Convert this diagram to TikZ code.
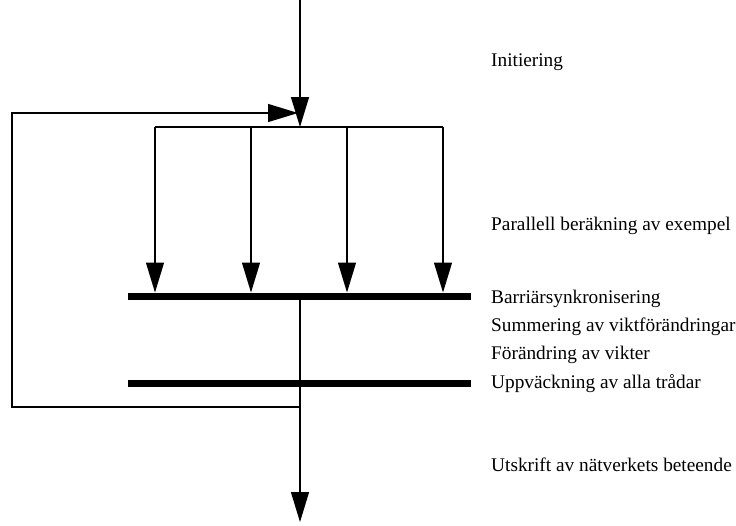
\documentclass[tikz,border=0pt]{standalone}
\usepackage{fontspec}
\setmainfont{Liberation Serif}
\usetikzlibrary{arrows.meta}

\begin{document}
\begin{tikzpicture}[x=1pt, y=-1pt,
	flode/.style={line width=1.3pt, -{Triangle[length=30pt,width=18pt]}}, % pilar
	linje/.style={line width=1.3pt},
	barriar/.style={line width=7pt}, % tjocka streck
	etikett/.style={anchor=base west, inner sep=0pt, font=\fontsize{19.3}{21}\selectfont}]
\useasboundingbox (0,0) rectangle (736,525);
% punkter
\coordinate (start) at (300,0);
\coordinate (fordela) at (300,127);
\coordinate (slut) at (300,522);
\coordinate (tillbaka) at (300,407);
\coordinate (bvanster) at (128,296);
\coordinate (bhoger) at (471,296);
\coordinate (uvanster) at (128,383);
\coordinate (uhoger) at (471,383);
% barriärer
\draw[barriar] (bvanster) -- (bhoger);
\draw[barriar] (uvanster) -- (uhoger);
% initiering
\draw[flode] (start) -- (fordela);
\draw[linje] (155,127) -- (443,127);
\foreach \x in {155,251,347,443}
	\draw[flode] (\x,127) -- (\x,292.5);
% summering och utskrift
\draw[flode] (300,296) -- (slut);
% återkoppling
\draw[flode] (tillbaka) -- (12,407) -- (12,113) -- (298,113);
% texter
\node[etikett] (init) at (491,66) {Initiering};
\node[etikett] (parallell) at (491,230) {Parallell beräkning av exempel};
\node[etikett] (barr) at (491,303) {Barriärsynkronisering};
\node[etikett] (summa) at (491,331) {Summering av viktförändringar};
\node[etikett] (andra) at (491,359) {Förändring av vikter};
\node[etikett] (vakna) at (491,388) {Uppväckning av alla trådar};
\node[etikett] (utskrift) at (491,471) {Utskrift av nätverkets beteende};
\end{tikzpicture}
\end{document}
